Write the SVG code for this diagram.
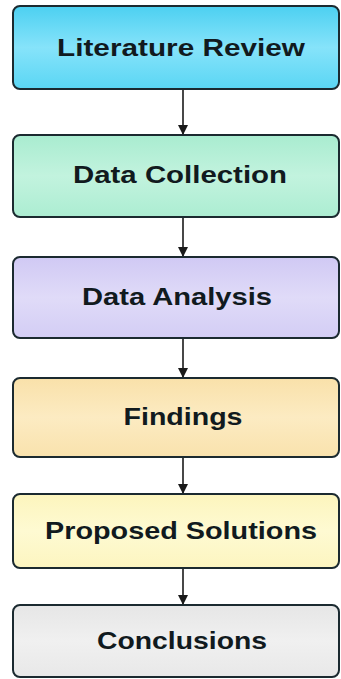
<svg xmlns="http://www.w3.org/2000/svg" width="341" height="679" viewBox="0 0 341 679">
  <defs>
    <linearGradient id="g1" x1="0" y1="0" x2="0" y2="1">
      <stop offset="0" stop-color="#4cd0f1"/>
      <stop offset="0.5" stop-color="#86e3fa"/>
      <stop offset="1" stop-color="#5ad6f4"/>
    </linearGradient>
    <linearGradient id="g2" x1="0" y1="0" x2="0" y2="1">
      <stop offset="0" stop-color="#a9ecd0"/>
      <stop offset="0.5" stop-color="#c2f3de"/>
      <stop offset="1" stop-color="#acedd2"/>
    </linearGradient>
    <linearGradient id="g3" x1="0" y1="0" x2="0" y2="1">
      <stop offset="0" stop-color="#d0c9f4"/>
      <stop offset="0.5" stop-color="#e0dbf8"/>
      <stop offset="1" stop-color="#d3cdf5"/>
    </linearGradient>
    <linearGradient id="g4" x1="0" y1="0" x2="0" y2="1">
      <stop offset="0" stop-color="#f9e1aa"/>
      <stop offset="0.5" stop-color="#fcebc2"/>
      <stop offset="1" stop-color="#f9e2ad"/>
    </linearGradient>
    <linearGradient id="g5" x1="0" y1="0" x2="0" y2="1">
      <stop offset="0" stop-color="#fcf5bd"/>
      <stop offset="0.5" stop-color="#fefad2"/>
      <stop offset="1" stop-color="#fcf5c0"/>
    </linearGradient>
    <linearGradient id="g6" x1="0" y1="0" x2="0" y2="1">
      <stop offset="0" stop-color="#e6e6e6"/>
      <stop offset="0.5" stop-color="#f0f0f0"/>
      <stop offset="1" stop-color="#e8e8e8"/>
    </linearGradient>
    <marker id="arr" viewBox="0 0 10 10" refX="10" refY="5" markerWidth="10" markerHeight="10" markerUnits="userSpaceOnUse" orient="auto">
      <path d="M0,0 L10,5 L0,10 z" fill="#1a1a1a"/>
    </marker>
    <style>
      .box { stroke: #1b2a30; stroke-width: 2; }
      .lbl { font-family: "Liberation Sans", Arial, sans-serif; font-weight: bold; font-size: 24.5px; fill: #111a1e; text-anchor: middle; }
      .con { stroke: #1a1a1a; stroke-width: 1.6; fill: none; marker-end: url(#arr); }
    </style>
  </defs>
  <rect width="341" height="679" fill="#ffffff"/>
  <g id="connectors">
    <line class="con" x1="183" y1="89" x2="183" y2="135"/>
    <line class="con" x1="183" y1="217" x2="183" y2="257"/>
    <line class="con" x1="183" y1="338" x2="183" y2="378"/>
    <line class="con" x1="183" y1="457" x2="183" y2="494"/>
    <line class="con" x1="183" y1="568" x2="183" y2="605"/>
  </g>
  <g id="literature-review">
    <rect class="box" x="13" y="6" width="326" height="83" rx="7" fill="url(#g1)"/>
    <text class="lbl" x="181" y="56" textLength="248" lengthAdjust="spacingAndGlyphs">Literature Review</text>
  </g>
  <g id="data-collection">
    <rect class="box" x="13" y="135" width="326" height="82" rx="7" fill="url(#g2)"/>
    <text class="lbl" x="180" y="183" textLength="214" lengthAdjust="spacingAndGlyphs">Data Collection</text>
  </g>
  <g id="data-analysis">
    <rect class="box" x="13" y="257" width="326" height="81" rx="7" fill="url(#g3)"/>
    <text class="lbl" x="177" y="305" textLength="190" lengthAdjust="spacingAndGlyphs">Data Analysis</text>
  </g>
  <g id="findings">
    <rect class="box" x="13" y="378" width="326" height="79" rx="7" fill="url(#g4)"/>
    <text class="lbl" x="183" y="425" textLength="119" lengthAdjust="spacingAndGlyphs">Findings</text>
  </g>
  <g id="proposed-solutions">
    <rect class="box" x="13" y="494" width="326" height="74" rx="7" fill="url(#g5)"/>
    <text class="lbl" x="181" y="539" textLength="272" lengthAdjust="spacingAndGlyphs">Proposed Solutions</text>
  </g>
  <g id="conclusions">
    <rect class="box" x="13" y="605" width="326" height="72" rx="7" fill="url(#g6)"/>
    <text class="lbl" x="182" y="649" textLength="170" lengthAdjust="spacingAndGlyphs">Conclusions</text>
  </g>
</svg>
